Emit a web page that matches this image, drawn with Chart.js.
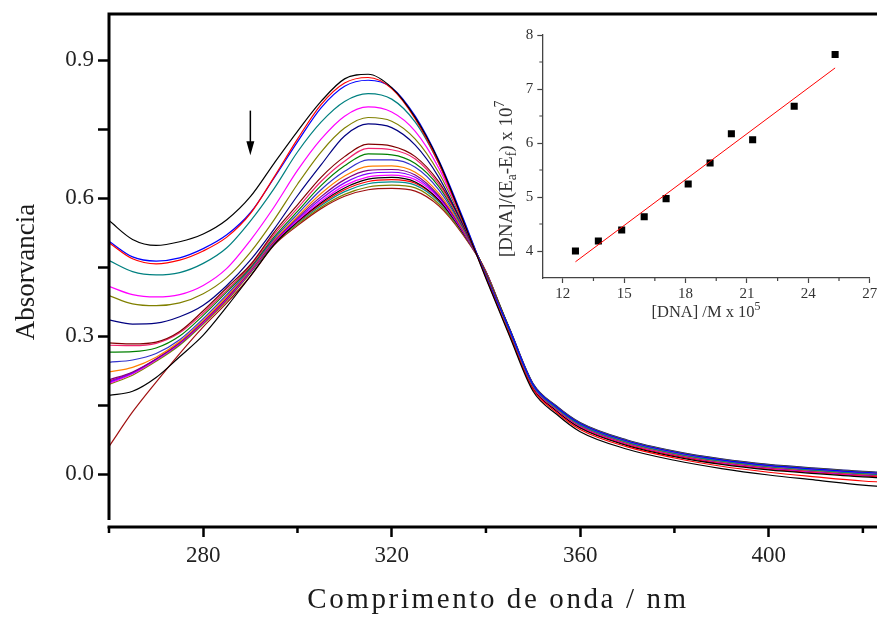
<!DOCTYPE html>
<html><head><meta charset="utf-8">
<script src="https://cdn.jsdelivr.net/npm/chart.js@4.4.1/dist/chart.umd.min.js"></script>
<style>
html,body{margin:0;padding:0;background:#fff;overflow:hidden;width:877px;height:617px;position:relative;}
#main{position:absolute;left:0;top:0;width:915px;height:617px;}
#inset{position:absolute;left:480px;top:10px;width:417px;height:320px;}
</style></head><body>
<canvas id="main" width="915" height="617"></canvas>
<canvas id="inset" width="417" height="320"></canvas>
<script>
// ---------- Main chart data (absorbance vs wavelength) ----------
const wavelength = [260,265,270,275,280,285,290,295,300,305,310,315,320,325,330,335,340,345,350,355,360,370,380,390,400,410,420,430];
const c01 = [.551,.510,.497,.505,.522,.553,.603,.675,.745,.810,.859,.869,.840,.775,.680,.555,.425,.300,.180,.130,.092,.054,.030,.012,-.002,-.013,-.024,-.031];
const c02 = [.503,.468,.457,.465,.485,.515,.566,.645,.728,.803,.850,.862,.838,.772,.675,.553,.427,.303,.184,.134,.097,.059,.035,.017,.004,-.006,-.015,-.021];
const c03 = [.506,.472,.463,.470,.490,.520,.568,.643,.722,.796,.843,.856,.840,.778,.682,.560,.430,.315,.195,.146,.110,.072,.048,.031,.019,.011,.004,-.001];
const c04 = [.464,.440,.433,.438,.458,.492,.550,.620,.700,.765,.810,.827,.815,.765,.675,.557,.430,.312,.192,.143,.107,.069,.045,.028,.016,.008,.001,-.004];
const c05 = [.408,.390,.385,.390,.410,.447,.508,.580,.660,.728,.778,.798,.787,.745,.665,.553,.430,.313,.193,.144,.108,.070,.046,.029,.017,.009,.002,-.003];
const c06 = [.388,.370,.366,.372,.392,.427,.482,.552,.630,.700,.752,.775,.767,.728,.655,.550,.432,.316,.196,.147,.111,.073,.049,.032,.020,.012,.005,.000];
const c07 = [.335,.326,.328,.342,.367,.410,.465,.532,.605,.672,.735,.761,.753,.715,.645,.545,.432,.317,.197,.148,.112,.074,.050,.033,.021,.013,.006,.001];
const c08 = [.285,.283,.287,.310,.355,.405,.455,.525,.585,.645,.690,.717,.713,.690,.635,.545,.435,.315,.194,.144,.108,.070,.046,.029,.017,.009,.002,-.003];
const c09 = [.280,.279,.284,.307,.350,.400,.452,.520,.578,.636,.680,.708,.705,.685,.630,.542,.435,.314,.193,.143,.107,.069,.045,.028,.016,.008,.001,-.004];
const c10 = [.265,.266,.274,.300,.345,.396,.449,.515,.571,.627,.670,.696,.694,.675,.625,.540,.437,.316,.195,.146,.110,.072,.048,.031,.019,.011,.004,-.001];
const c11 = [.243,.248,.262,.292,.338,.390,.446,.511,.565,.618,.658,.683,.683,.667,.618,.537,.437,.314,.193,.144,.108,.070,.046,.029,.017,.009,.002,-.003];
const c12 = [.222,.232,.254,.288,.334,.386,.444,.508,.560,.610,.648,.669,.670,.656,.610,.534,.438,.313,.192,.142,.106,.068,.044,.027,.015,.007,.000,-.005];
const c13 = [.205,.222,.250,.286,.332,.383,.442,.506,.557,.603,.640,.660,.662,.650,.605,.532,.438,.312,.191,.141,.105,.067,.043,.026,.014,.006,-.001,-.006];
const c14 = [.200,.220,.250,.285,.331,.382,.441,.505,.554,.598,.633,.653,.656,.645,.602,.530,.438,.313,.192,.142,.106,.068,.044,.027,.015,.007,.000,-.005];
const c15 = [.197,.218,.248,.284,.330,.381,.440,.504,.551,.593,.627,.646,.650,.640,.600,.529,.440,.312,.190,.140,.104,.066,.042,.025,.013,.005,-.002,-.007];
const c16 = [.171,.180,.210,.255,.302,.364,.430,.498,.549,.590,.622,.641,.645,.635,.596,.527,.440,.309,.187,.137,.100,.062,.038,.021,.009,.001,-.006,-.011];
const c17 = [.202,.220,.249,.283,.329,.380,.439,.503,.548,.587,.618,.636,.640,.632,.595,.527,.440,.310,.188,.138,.102,.064,.040,.023,.011,.003,-.004,-.009];
const c18 = [.200,.219,.248,.282,.328,.379,.438,.502,.546,.584,.614,.631,.635,.628,.592,.526,.440,.311,.190,.140,.104,.066,.042,.025,.013,.005,-.002,-.007];
const c19 = [.195,.215,.245,.280,.326,.377,.437,.500,.543,.580,.608,.624,.628,.622,.587,.524,.440,.315,.195,.145,.109,.071,.047,.030,.018,.010,.003,-.002];
const c20 = [.060,.135,.200,.262,.320,.372,.430,.497,.540,.577,.604,.618,.621,.615,.583,.522,.440,.310,.189,.139,.103,.065,.041,.024,.012,.004,-.003,-.008];
const curves = [c01,c02,c03,c04,c05,c06,c07,c08,c09,c10,c11,c12,c13,c14,c15,c16,c17,c18,c19,c20];
const curveColors = ['#000000','#ff0000','#0000ff','#008080','#ff00ff','#808000','#000080','#800000','#f0246e','#008000',
                     '#3333cc','#ff8000','#800080','#8000ff','#ff00ff','#000000','#ff0000','#009090','#808000','#a01010'];
const xMajorTicks = [280,320,360,400];
const xMinorTicks = [260,300,340,380,420];
const yTicks = [0,0.15,0.3,0.45,0.6,0.75,0.9];
const yMajorTicks = [0,0.3,0.6,0.9];
const arrowX = 290;
const arrowY = [0.79, 0.693];

// ---------- Inset data ----------
const dnaConc = [12.62,13.74,14.88,15.98,17.05,18.13,19.20,20.24,21.28,23.31,25.31];
const ratio   = [4.00,4.185,4.39,4.635,4.97,5.24,5.63,6.17,6.06,6.68,7.64];
const fitX = [12.62, 25.31];
const fitY = [3.80, 7.39];
const insetXTicks = [12,15,18,21,24,27];
const insetXMinor = [13.5,16.5,19.5,22.5,25.5];
const insetYTicks = [4,5,6,7,8];
const insetYMinor = [4.5,5.5,6.5,7.5];

const SERIF = "'Liberation Serif','Times New Roman',serif";

function noPad(s) { s.paddingTop = 0; s.paddingBottom = 0; s.paddingLeft = 0; s.paddingRight = 0; }

const mainPlugin = {
  id: 'mainDecor',
  afterDraw(chart) {
    const {ctx, chartArea: a, scales: {x, y}} = chart;
    ctx.save();
    ctx.strokeStyle = '#000';
    ctx.lineWidth = 3;
    ctx.beginPath();
    ctx.moveTo(a.left, a.top - 1.5);
    ctx.lineTo(a.left, y.getPixelForValue(-0.1));
    ctx.moveTo(a.left - 1.5, a.top);
    ctx.lineTo(a.right, a.top);
    ctx.lineTo(a.right, a.bottom);
    ctx.moveTo(a.left - 1.5, a.bottom);
    ctx.lineTo(a.right + 1.5, a.bottom);
    ctx.stroke();
    ctx.lineWidth = 2.5;
    ctx.beginPath();
    xMinorTicks.forEach(v => {
      const px = x.getPixelForValue(v);
      ctx.moveTo(px, a.bottom);
      ctx.lineTo(px, a.bottom + 6);
    });
    ctx.stroke();
    // arrow
    const ax = x.getPixelForValue(arrowX);
    const ay1 = y.getPixelForValue(arrowY[0]);
    const ay2 = y.getPixelForValue(arrowY[1]);
    ctx.lineWidth = 1.5;
    ctx.beginPath();
    ctx.moveTo(ax, ay1);
    ctx.lineTo(ax, ay2 - 10);
    ctx.stroke();
    ctx.fillStyle = '#000';
    ctx.beginPath();
    ctx.moveTo(ax - 4, ay2 - 14);
    ctx.lineTo(ax + 4, ay2 - 14);
    ctx.lineTo(ax, ay2);
    ctx.closePath();
    ctx.fill();
    // titles
    ctx.fillStyle = '#1a1a1a';
    ctx.textAlign = 'center';
    ctx.textBaseline = 'middle';
    ctx.font = `29px ${SERIF}`;
    try { ctx.letterSpacing = '2.6px'; } catch (e) {}
    ctx.fillText('Comprimento de onda / nm', 498, 600);
    try { ctx.letterSpacing = '0px'; } catch (e) {}
    ctx.translate(27, 272);
    ctx.rotate(-Math.PI / 2);
    ctx.font = `27px ${SERIF}`;
    ctx.fillText('Absorvancia', 0, 0);
    ctx.restore();
  }
};

new Chart(document.getElementById('main'), {
  type: 'line',
  data: {
    datasets: curves.map((c, i) => ({
      data: wavelength.map((w, j) => ({x: w, y: c[j]})),
      borderColor: curveColors[i],
      borderWidth: 1.2,
      pointRadius: 0,
      cubicInterpolationMode: 'monotone',
      fill: false
    }))
  },
  options: {
    responsive: false, animation: false, devicePixelRatio: 1,
    layout: {padding: {left: 0, top: 14, right: 5, bottom: 0}},
    plugins: {legend: {display: false}, tooltip: {enabled: false}},
    scales: {
      x: {
        type: 'linear', min: 260, max: 430,
        afterFit(s) { s.height = 90; noPad(s); },
        afterBuildTicks(s) { s.ticks = xMajorTicks.map(v => ({value: v})); },
        grid: {drawOnChartArea: false, drawTicks: true, tickLength: 10, tickWidth: 2.5, tickColor: '#000'},
        border: {display: false},
        ticks: {font: {family: SERIF, size: 23}, color: '#222', padding: 5, maxRotation: 0, callback: v => String(v)}
      },
      y: {
        min: -0.115, max: 1.0,
        afterFit(s) { s.width = 109; noPad(s); },
        afterBuildTicks(s) { s.ticks = yTicks.map(v => ({value: v})); },
        grid: {drawOnChartArea: false, drawTicks: true, tickLength: 11, tickWidth: 2.5, tickColor: '#000'},
        border: {display: false},
        ticks: {font: {family: SERIF, size: 23}, color: '#222', padding: 4,
          callback: v => yMajorTicks.some(m => Math.abs(m - v) < 1e-9) ? v.toFixed(1) : ''}
      }
    }
  },
  plugins: [mainPlugin]
});

function drawRich(ctx, segs, cx, cy, rot, size, color) {
  ctx.save();
  ctx.translate(cx, cy);
  ctx.rotate(rot);
  const small = size * 0.72;
  let total = 0;
  const widths = segs.map(s => {
    ctx.font = `${(s.sub || s.sup) ? small : size}px ${SERIF}`;
    const w = ctx.measureText(s.t).width;
    total += w;
    return w;
  });
  let x = -total / 2;
  ctx.textAlign = 'left';
  ctx.textBaseline = 'alphabetic';
  ctx.fillStyle = color;
  segs.forEach((s, i) => {
    ctx.font = `${(s.sub || s.sup) ? small : size}px ${SERIF}`;
    const dy = s.sup ? -size * 0.42 : (s.sub ? size * 0.25 : 0);
    ctx.fillText(s.t, x, size * 0.35 + dy);
    x += widths[i];
  });
  ctx.restore();
}

const insetPlugin = {
  id: 'insetDecor',
  afterDraw(chart) {
    const {ctx, chartArea: a, scales: {x, y}} = chart;
    ctx.save();
    ctx.strokeStyle = '#444';
    ctx.lineWidth = 1.2;
    ctx.beginPath();
    insetXMinor.forEach(v => {
      const px = x.getPixelForValue(v);
      ctx.moveTo(px, a.bottom);
      ctx.lineTo(px, a.bottom + 3);
    });
    insetYMinor.forEach(v => {
      const py = y.getPixelForValue(v);
      ctx.moveTo(a.left, py);
      ctx.lineTo(a.left - 3, py);
    });
    ctx.stroke();
    ctx.restore();
    drawRich(ctx, [{t: '[DNA] /M x 10'}, {t: '5', sup: true}], (a.left + a.right) / 2, 301, 0, 16.5, '#333');
    drawRich(ctx, [{t: '[DNA]/(E'}, {t: 'a', sub: true}, {t: '-E'}, {t: 'f', sub: true}, {t: ') x 10'}, {t: '7', sup: true}],
      25, 169, -Math.PI / 2, 19, '#333');
  }
};

new Chart(document.getElementById('inset'), {
  type: 'scatter',
  data: {
    datasets: [
      {type: 'line', data: fitX.map((v, i) => ({x: v, y: fitY[i]})), borderColor: '#ff0000', borderWidth: 1, pointRadius: 0, fill: false},
      {data: dnaConc.map((v, i) => ({x: v, y: ratio[i]})), pointStyle: 'rect', pointRadius: 5, backgroundColor: '#000', borderWidth: 0}
    ]
  },
  options: {
    responsive: false, animation: false, devicePixelRatio: 1,
    layout: {padding: {left: 0, top: 25, right: 27.3, bottom: 0}},
    plugins: {legend: {display: false}, tooltip: {enabled: false}},
    scales: {
      x: {
        type: 'linear', min: 11, max: 27,
        afterFit(s) { s.height = 52; },
        afterBuildTicks(s) { s.ticks = insetXTicks.map(v => ({value: v})); },
        grid: {drawOnChartArea: false, tickLength: 5, tickWidth: 1.2, tickColor: '#444'},
        border: {display: true, color: '#444', width: 1.3},
        ticks: {font: {family: SERIF, size: 15}, color: '#333', padding: 2, maxRotation: 0}
      },
      y: {
        min: 3.5, max: 8,
        afterFit(s) { s.width = 62.3; },
        afterBuildTicks(s) { s.ticks = insetYTicks.map(v => ({value: v})); },
        grid: {drawOnChartArea: false, tickLength: 5, tickWidth: 1.2, tickColor: '#444'},
        border: {display: true, color: '#444', width: 1.3},
        ticks: {font: {family: SERIF, size: 15}, color: '#333', padding: 4}
      }
    }
  },
  plugins: [insetPlugin]
});
</script>
</body></html>
